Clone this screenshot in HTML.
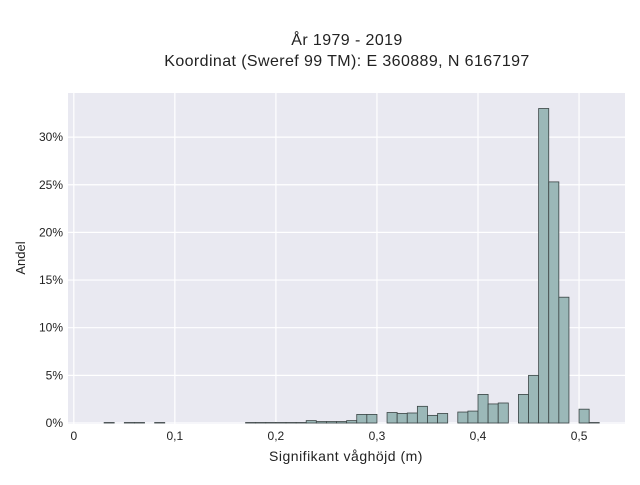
<!DOCTYPE html>
<html><head><meta charset="utf-8"><style>
body{margin:0;background:#fff;font-family:"Liberation Sans",sans-serif}
</style></head><body>
<svg width="640" height="480" xmlns="http://www.w3.org/2000/svg">
<rect width="640" height="480" fill="#fff"/>
<text x="347" y="45" text-anchor="middle" font-size="16" letter-spacing="0.4" fill="#222">År 1979 - 2019</text>
<text x="347" y="66" text-anchor="middle" font-size="16" letter-spacing="0.4" fill="#222">Koordinat (Sweref 99 TM): E 360889, N 6167197</text>
<rect x="68" y="93" width="557" height="331" fill="#e9e9f1"/>
<g id="grid"></g>
<g id="bars"></g>
<g id="ticks" font-size="12" fill="#222"></g>
<text x="346" y="461" text-anchor="middle" font-size="14" letter-spacing="0.5" fill="#222">Signifikant våghöjd (m)</text>
<text transform="translate(25,258) rotate(-90)" text-anchor="middle" font-size="13" fill="#222">Andel</text>
</svg>
<script>
const binStarts=[0.03,0.05,0.06,0.08,0.17,0.18,0.19,0.20,0.21,0.22,0.23,0.24,0.25,0.26,0.27,0.28,0.29,0.31,0.32,0.33,0.34,0.35,0.36,0.38,0.39,0.40,0.41,0.42,0.44,0.45,0.46,0.47,0.48,0.50,0.51];
const shares=[0.05,0.05,0.05,0.05,0.05,0.05,0.05,0.05,0.05,0.05,0.25,0.15,0.15,0.15,0.25,0.9,0.9,1.1,1.0,1.05,1.75,0.8,1.0,1.15,1.25,3.0,2.0,2.1,3.0,5.0,33.0,25.3,13.2,1.45,0.05];
const xTicks=[0,0.1,0.2,0.3,0.4,0.5];
const yTicks=[0,5,10,15,20,25,30];
const binWidth=0.01;
const NS="http://www.w3.org/2000/svg";
const X=v=>73.8+v*1010.5;
const Y=v=>423-v*9.53;
const grid=document.getElementById('grid'),bars=document.getElementById('bars'),ticks=document.getElementById('ticks');
function mk(tag,attrs,parent){const e=document.createElementNS(NS,tag);for(const k in attrs)e.setAttribute(k,attrs[k]);parent.appendChild(e);return e;}
xTicks.forEach(t=>{
 const l=mk('line',{x1:X(t),x2:X(t),y1:93,y2:424,stroke:'#fff','stroke-width':1.2},grid);
 
 
 const tx=mk('text',{x:X(t),y:440,'text-anchor':'middle'},ticks);
 tx.textContent=String(t).replace('.',',');
 
 
});
yTicks.forEach(t=>{
 const l=mk('line',{x1:68,x2:625,y1:Y(t),y2:Y(t),stroke:'#fff','stroke-width':1.2},grid);
 
 
 const tx=mk('text',{x:63,y:Y(t)+4,'text-anchor':'end'},ticks);
 tx.textContent=t+'%';
 
 
});
binStarts.forEach((b,i)=>{
 const x0=X(b),x1=X(b+binWidth),y=Y(shares[i]);
 const r=mk('rect',{x:x0,y:y,width:x1-x0,height:Y(0)-y,fill:'#9bb8b8',stroke:'#3a4444','stroke-width':0.8},bars);
 
 
});
</script>
</body></html>
